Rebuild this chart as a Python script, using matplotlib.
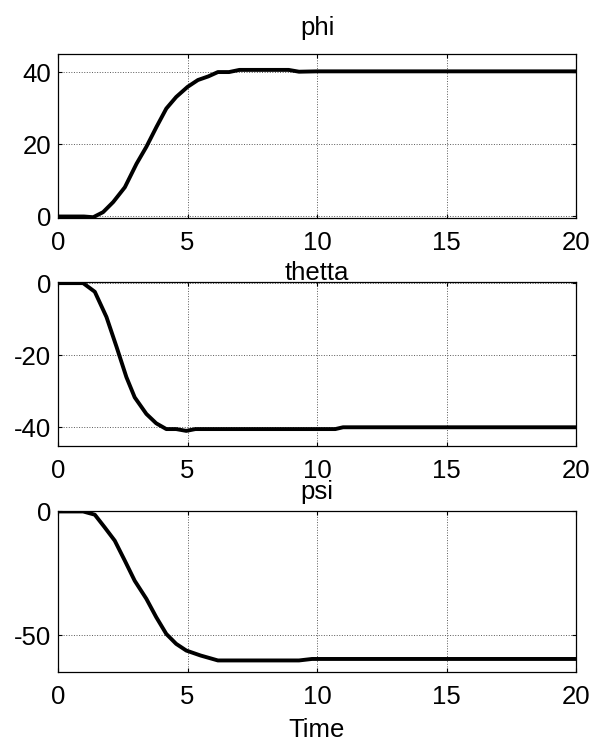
# phi / thetta / psi step responses

import matplotlib
matplotlib.use('Agg')
import matplotlib.pyplot as plt

plt.rcParams['font.family'] = ['Liberation Sans', 'DejaVu Sans']
plt.rcParams['axes.unicode_minus'] = False

phi_t = [0, 0.5, 1.0, 1.36, 1.74, 2.13, 2.58, 3.03, 3.41, 3.8, 4.18, 4.56,
         5.0, 5.4, 5.8, 6.17, 6.6, 7.0, 8.9, 9.3, 10, 20]
phi = [0, 0, 0, -0.2, 1.2, 4, 8.1, 14.6, 19.3, 24.8, 29.9, 33.1,
       35.9, 37.8, 38.8, 40, 40, 40.6, 40.6, 40.1, 40.2, 40.2]

thetta_t = [0, 0.97, 1.42, 1.87, 2.26, 2.64, 2.96, 3.41, 3.79, 4.18, 4.56,
            4.95, 5.3, 10.7, 11.0, 20]
thetta = [0, 0, -2.4, -9.4, -17.7, -26.1, -31.7, -36.3, -38.9, -40.5, -40.5,
          -41.0, -40.5, -40.5, -40.0, -40.0]

psi_t = [0, 0.97, 1.42, 1.8, 2.19, 2.58, 2.96, 3.41, 3.79, 4.18, 4.56,
         4.95, 5.5, 6.17, 9.3, 9.8, 20]
psi = [0, 0, -1.3, -6.4, -11.8, -19.9, -28, -35.3, -42.7, -49.5, -53.5,
       -56.2, -58.2, -60.2, -60.2, -59.6, -59.6]

xticks = [0, 5, 10, 15, 20]
fs = 18.5

fig = plt.figure(figsize=(6.01, 7.42), dpi=100)

panels = [
    (phi_t, phi, 'phi', (-0.5, 45), [0, 20, 40], [0.0965, 0.7058, 0.8624, 0.2214], 14),
    (thetta_t, thetta, 'thetta', (-45.2, 0.3), [-40, -20, 0], [0.0965, 0.3989, 0.8624, 0.2210], 1.5),
    (psi_t, psi, 'psi', (-65, 0.3), [-50, 0], [0.0965, 0.0939, 0.8624, 0.2178], 8.5),
]

for t, y, name, ylim, yticks, pos, tpad in panels:
    ax = fig.add_axes(pos)
    ax.plot(t, y, color='black', lw=2.8)
    ax.set_xlim(0, 20)
    ax.set_ylim(*ylim)
    ax.set_xticks(xticks)
    ax.set_yticks(yticks)
    ax.grid(True, linestyle=':', color='0.35', lw=0.7)
    ax.tick_params(direction='in', length=3, width=0.8, top=True, right=True,
                   labelsize=fs)
    ax.tick_params(axis='x', pad=9)
    ax.tick_params(axis='y', pad=5)
    for s in ax.spines.values():
        s.set_linewidth(0.9)
    ax.set_title(name, fontsize=fs, pad=tpad)

fig.text(0.5275, 1 - 737 / 742, 'Time', ha='center', va='baseline', fontsize=fs)

plt.savefig('out.png', dpi=100)
